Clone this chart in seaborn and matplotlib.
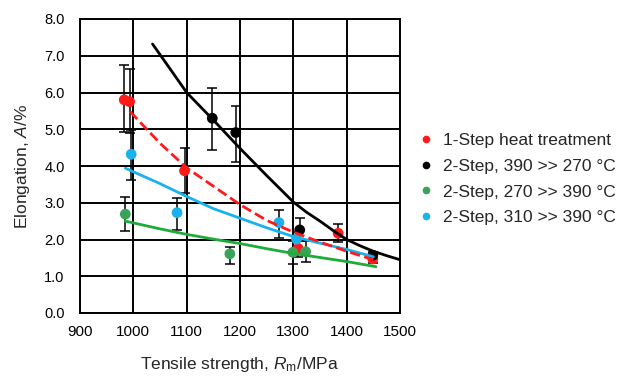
import numpy as np
import pandas as pd
import matplotlib
matplotlib.use("Agg")
import matplotlib.pyplot as plt
from matplotlib.lines import Line2D
import seaborn as sns

# %% data
labels = ["1-Step heat treatment", "2-Step, 390 >> 270 °C",
          "2-Step, 270 >> 390 °C", "2-Step, 310 >> 390 °C"]
colors = ["#ff1a1a", "#000000", "#3aa35a", "#1ab2ee"]
line_colors = ["#ff1a1a", "#000000", "#1fab3c", "#1ab2ee"]

red_x = [983, 993, 1096, 1309, 1384, 1449]
red_y = [5.80, 5.75, 3.87, 1.76, 2.17, 1.47]
red_hi = [6.75, 6.63, 4.48, 2.00, 2.42, 1.57]
red_lo = [4.92, 4.89, 3.26, 1.52, 1.92, 1.37]

black_x = [1148, 1192, 1312, 1449]
black_y = [5.30, 4.91, 2.26, 1.57]
black_hi = [6.11, 5.64, 2.58, 1.67]
black_lo = [4.44, 4.11, 1.95, 1.47]

green_x = [985, 1181, 1299, 1323]
green_y = [2.69, 1.61, 1.65, 1.67]
green_hi = [3.15, 1.80, 1.95, 1.95]
green_lo = [2.23, 1.33, 1.33, 1.40]

blue_x = [996, 1082, 1273, 1306]
blue_y = [4.32, 2.73, 2.46, 2.01]
blue_hi = [4.98, 3.14, 2.80, 2.20]
blue_lo = [3.62, 2.26, 2.05, 1.82]

# trend lines (read at several x positions)
red_tx = [994, 1050, 1100, 1150, 1200, 1250, 1300, 1350, 1400, 1450]
red_ty = [5.48, 4.62, 3.95, 3.45, 2.95, 2.52, 2.20, 1.93, 1.68, 1.45]
black_tx = [1036, 1070, 1100, 1150, 1200, 1250, 1300, 1325, 1350, 1375,
            1400, 1425, 1450, 1475, 1500]
black_ty = [7.32, 6.62, 6.00, 5.25, 4.48, 3.74, 3.02, 2.74, 2.50, 2.24,
            2.00, 1.83, 1.68, 1.56, 1.45]
green_tx = [985, 1050, 1100, 1150, 1200, 1250, 1300, 1350, 1400, 1455]
green_ty = [2.50, 2.29, 2.14, 2.01, 1.89, 1.75, 1.62, 1.51, 1.40, 1.26]
blue_tx = [985, 1050, 1100, 1150, 1200, 1250, 1300, 1350, 1400, 1450]
blue_ty = [3.94, 3.52, 3.17, 2.84, 2.58, 2.32, 2.08, 1.90, 1.73, 1.53]

xticks = [900, 1000, 1100, 1200, 1300, 1400, 1500]
yticks = [0, 1, 2, 3, 4, 5, 6, 7, 8]

# %% style
sns.set_style("white")
plt.rcParams["font.family"] = ["Liberation Sans", "DejaVu Sans"]
plt.rcParams["mathtext.fontset"] = "custom"
plt.rcParams["mathtext.rm"] = "Liberation Sans"
plt.rcParams["mathtext.it"] = "Liberation Sans:italic"

fig = plt.figure(figsize=(6.32, 3.78), dpi=100)
ax = fig.add_axes([80 / 632, 65 / 378, 320 / 632, 294 / 378])

series = [
    (red_x, red_y, red_hi, red_lo, red_tx, red_ty, "--"),
    (black_x, black_y, black_hi, black_lo, black_tx, black_ty, "-"),
    (green_x, green_y, green_hi, green_lo, green_tx, green_ty, "-"),
    (blue_x, blue_y, blue_hi, blue_lo, blue_tx, blue_ty, "-"),
]

# error bars
for xs, ys, hi, lo, tx, ty, ls in series:
    yerr = [np.array(ys) - np.array(lo), np.array(hi) - np.array(ys)]
    ax.errorbar(xs, ys, yerr=yerr, fmt="none", ecolor="black",
                elinewidth=1.1, capsize=3.3, capthick=1.1, zorder=3)

# points and trend lines
for i, (xs, ys, hi, lo, tx, ty, ls) in enumerate(series):
    sns.scatterplot(x=xs, y=ys, ax=ax, color=colors[i], s=60,
                    edgecolor="none", zorder=4)
    tdf = pd.DataFrame({"x": tx, "y": ty})
    sns.lineplot(data=tdf, x="x", y="y", ax=ax, color=line_colors[i],
                 linestyle=ls, linewidth=2.0, zorder=5 if i == 0 else 4.5,
                 sort=False)

ax.set_xlim(900, 1500)
ax.set_ylim(0, 8)
ax.set_xticks(xticks)
ax.set_yticks(yticks)
ax.set_yticklabels([f"{v:.1f}" for v in yticks])
ax.grid(True, color="black", linewidth=1.4)
ax.set_axisbelow(True)
for s in ax.spines.values():
    s.set_color("black")
    s.set_linewidth(1.4)
ax.tick_params(axis="x", direction="inout", length=6, width=1.2,
               labelsize=11, colors="black", pad=6)
ax.tick_params(axis="y", direction="inout", length=8, width=1.2,
               labelsize=10.5, colors="black", pad=7)

ax.set_xlabel("Tensile strength, $R_\\mathrm{m}$/MPa", fontsize=12.5, labelpad=11)
ax.set_ylabel("Elongation, $A$/%", fontsize=12.5, labelpad=9)

handles = [Line2D([0], [0], marker="o", linestyle="none", color=c,
                  markersize=4.5) for c in colors]
fig.legend(handles, labels, loc="center left",
           bbox_to_anchor=(412 / 632, 199 / 378), frameon=False,
           fontsize=12.5, handlelength=0.8, handletextpad=0.6,
           labelspacing=0.62, borderaxespad=0)

fig.savefig("out.png", dpi=100)
